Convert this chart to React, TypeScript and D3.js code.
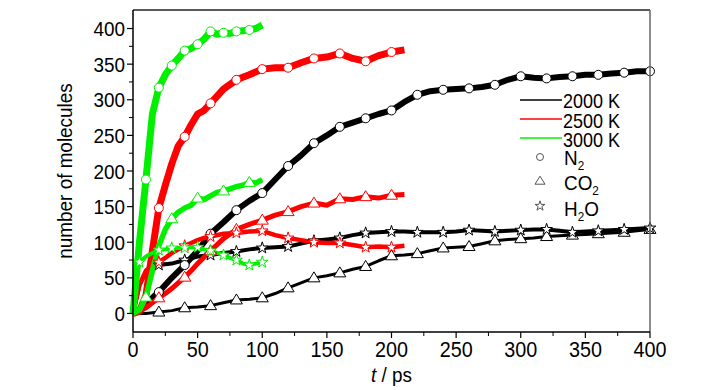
import React from 'react';
import * as d3 from 'd3';

const W = 728;
const H = 390;
const PLOT = { left: 133, right: 650, top: 10, bottom: 332 };
const FONT = "'Liberation Sans', Arial, sans-serif";
const SX = 0.9;

const xMajorTicks = [0, 50, 100, 150, 200, 250, 300, 350, 400];
const xMinorTicks = [25, 75, 125, 175, 225, 275, 325, 375];
const yMajorTicks = [0, 50, 100, 150, 200, 250, 300, 350, 400];
const yMinorTicks = [25, 75, 125, 175, 225, 275, 325, 375];

const temperatures = ['2000 K', '2500 K', '3000 K'];
const molecules = ['N2', 'CO2', 'H2O'];

// 3000 K
const tGreen = [0, 2, 5, 10, 15, 20, 25, 30, 35, 40, 45, 50, 55, 60, 65, 70, 75, 80, 85, 90, 95, 100];
const greenN2 = [0, 40, 100, 188, 280, 317, 335, 348, 358, 369, 372, 378, 385, 396, 392, 394, 393, 396, 397, 398, 400, 405];
const greenCO2 = [0, 2, 5, 23, 60, 95, 118, 133, 142, 148, 152, 162, 160, 165, 170, 172, 175, 178, 180, 184, 183, 188];
const greenH2O = [0, 50, 72, 80, 85, 89, 90, 92, 92, 92, 93, 93, 90, 88, 85, 82, 78, 75, 70, 68, 70, 72];

// 2500 K
const tRed = [0, 5, 10, 15, 20, 25, 30, 35, 40, 45, 50, 55, 60, 70, 80, 90, 100, 110, 120, 130, 140, 150, 160, 170, 180, 190, 200, 210];
const redN2 = [0, 3, 25, 88, 148, 180, 210, 235, 248, 265, 280, 285, 295, 315, 328, 335, 343, 345, 345, 352, 358, 360, 365, 358, 354, 362, 367, 370];
const redCO2 = [0, 3, 8, 15, 22, 28, 35, 43, 51, 60, 70, 79, 88, 105, 118, 125, 131, 138, 143, 150, 155, 152, 161, 160, 164, 162, 166, 167];
const redH2O = [0, 40, 60, 68, 72, 78, 85, 90, 95, 99, 103, 106, 108, 112, 113, 115, 116, 110, 106, 103, 100, 99, 99, 96, 93, 94, 93, 95];

// 2000 K
const tBlack = [0, 5, 10, 15, 20, 30, 40, 50, 60, 70, 80, 90, 100, 110, 120, 130, 140, 150, 160, 170, 180, 190, 200, 210, 220, 230, 240, 250, 260, 270, 280, 290, 300, 310, 320, 330, 340, 350, 360, 370, 380, 390, 400];
const blackN2 = [0, 5, 15, 22, 30, 50, 68, 88, 112, 128, 145, 158, 169, 188, 207, 222, 239, 250, 262, 268, 274, 280, 285, 297, 307, 312, 314, 315, 316, 318, 321, 328, 333, 331, 330, 332, 333, 335, 335, 337, 338, 340, 340];
const blackCO2 = [0, 0, 0, 1, 2, 4, 8, 9, 11, 15, 19, 20, 22, 28, 36, 43, 50, 53, 57, 62, 66, 74, 81, 82, 84, 88, 92, 93, 94, 98, 102, 104, 105, 106, 108, 109, 110, 111, 112, 113, 114, 116, 118];
const blackH2O = [0, 40, 58, 65, 68, 70, 75, 80, 82, 85, 87, 90, 92, 93, 94, 98, 102, 104, 106, 110, 113, 114, 115, 115, 114, 114, 114, 115, 117, 116, 115, 116, 117, 118, 118, 116, 114, 115, 116, 117, 118, 119, 120];

const greenN2Marks = [10, 20, 30, 40, 50, 60, 70, 80, 90];
const greenCO2Marks = [10, 30, 50, 70, 90];
const greenH2OMarks = [5, 20, 30, 40, 50, 60, 70, 80, 90, 100];
const redMarks = [20, 40, 60, 80, 100, 120, 140, 160, 180, 200];
const blackMarks = [20, 40, 60, 80, 100, 120, 140, 160, 180, 200, 220, 240, 260, 280, 300, 320, 340, 360, 380, 400];

const COLORS: Record<string, string> = { '2000 K': '#000000', '2500 K': '#ff0000', '3000 K': '#00f000' };

type Series = { temp: string; mol: string; t: number[]; v: number[]; marks: number[]; width: number };

const series: Series[] = [
  { temp: '2000 K', mol: 'CO2', t: tBlack, v: blackCO2, marks: blackMarks, width: 3 },
  { temp: '2000 K', mol: 'H2O', t: tBlack, v: blackH2O, marks: blackMarks, width: 4 },
  { temp: '2000 K', mol: 'N2', t: tBlack, v: blackN2, marks: blackMarks, width: 6 },
  { temp: '2500 K', mol: 'CO2', t: tRed, v: redCO2, marks: redMarks, width: 5 },
  { temp: '2500 K', mol: 'H2O', t: tRed, v: redH2O, marks: redMarks, width: 4.5 },
  { temp: '2500 K', mol: 'N2', t: tRed, v: redN2, marks: redMarks, width: 7 },
  { temp: '3000 K', mol: 'CO2', t: tGreen, v: greenCO2, marks: greenCO2Marks, width: 5.5 },
  { temp: '3000 K', mol: 'H2O', t: tGreen, v: greenH2O, marks: greenH2OMarks, width: 4 },
  { temp: '3000 K', mol: 'N2', t: tGreen, v: greenN2, marks: greenN2Marks, width: 7 },
];

const x = d3.scaleLinear().domain([0, 400]).range([PLOT.left, PLOT.right]);
const y = d3.scaleLinear().domain([-26, 426]).range([PLOT.bottom, PLOT.top]);

const starPath = d3.symbol().type(d3.symbolStar).size(42)() as string;
const starPathSmall = d3.symbol().type(d3.symbolStar).size(30)() as string;

function trianglePath(w: number, h: number) {
  return `M0,${-h * 0.6}L${w / 2},${h * 0.4}L${-w / 2},${h * 0.4}Z`;
}

function Marker({ mol, cx, cy, stroke, small }: { mol: string; cx: number; cy: number; stroke: string; small?: boolean }) {
  if (mol === 'N2') {
    return <circle cx={cx} cy={cy} r={small ? 3.5 : 4.5} fill="#fff" stroke={stroke} strokeWidth={1} />;
  }
  if (mol === 'CO2') {
    return <path d={small ? trianglePath(10, 8) : trianglePath(12, 10)} transform={`translate(${cx},${cy})`} fill="#fff" stroke={stroke} strokeWidth={1} />;
  }
  return <path d={small ? starPathSmall : starPath} transform={`translate(${cx},${cy})`} fill="#fff" stroke={stroke} strokeWidth={1} />;
}

function T({ x: tx, y: ty, anchor, size, rotate, children, dy }: { x: number; y: number; anchor?: string; size: number; rotate?: number; children: React.ReactNode; dy?: string }) {
  const tr = `translate(${tx},${ty})${rotate ? ` rotate(${rotate})` : ''} scale(${SX},1)`;
  return (
    <text transform={tr} textAnchor={anchor || 'start'} fontSize={size} fill="#000" dy={dy}>
      {children}
    </text>
  );
}

export default function App() {
  const line = d3.line<[number, number]>().x((d) => x(d[0])).y((d) => y(d[1]));

  return (
    <svg width={W} height={H} style={{ position: 'absolute', left: 0, top: 0, background: '#fff' }} fontFamily={FONT}>
      <rect x={0} y={0} width={W} height={H} fill="#fff" />
      {series.map((s, i) => {
        const pts: [number, number][] = s.t.map((t, j) => [t, s.v[j]]);
        return (
          <path key={i} d={line(pts) as string} fill="none" stroke={COLORS[s.temp]} strokeWidth={s.width} strokeLinejoin="round" />
        );
      })}
      {series.map((s, i) => (
        <g key={'m' + i}>
          {s.marks.map((mt, k) => {
            const j = s.t.indexOf(mt);
            if (j < 0) return null;
            return <Marker key={k} mol={s.mol} cx={x(mt)} cy={y(s.v[j])} stroke={COLORS[s.temp]} />;
          })}
        </g>
      ))}

      {/* frame */}
      <line x1={PLOT.left} x2={PLOT.right} y1={PLOT.top} y2={PLOT.top} stroke="#222" strokeWidth={1.5} />
      <line x1={PLOT.right} x2={PLOT.right} y1={PLOT.top} y2={PLOT.bottom} stroke="#666" strokeWidth={1.5} />
      <line x1={PLOT.left} x2={PLOT.left} y1={PLOT.top} y2={PLOT.bottom} stroke="#000" strokeWidth={1.5} />
      <line x1={PLOT.left} x2={PLOT.right} y1={PLOT.bottom} y2={PLOT.bottom} stroke="#000" strokeWidth={1.5} />

      {yMajorTicks.map((v) => (
        <g key={'ym' + v}>
          <line x1={PLOT.left - 6} x2={PLOT.left} y1={y(v)} y2={y(v)} stroke="#000" strokeWidth={1.2} />
          <T x={PLOT.left - 8} y={y(v)} anchor="end" size={21} dy="0.36em">{v}</T>
        </g>
      ))}
      {yMinorTicks.map((v) => (
        <line key={'yn' + v} x1={PLOT.left - 4} x2={PLOT.left} y1={y(v)} y2={y(v)} stroke="#000" strokeWidth={1} />
      ))}
      {xMajorTicks.map((v) => (
        <g key={'xm' + v}>
          <line x1={x(v)} x2={x(v)} y1={PLOT.bottom} y2={PLOT.bottom + 6} stroke="#000" strokeWidth={1.2} />
          <T x={x(v)} y={357} anchor="middle" size={22}>{v}</T>
        </g>
      ))}
      {xMinorTicks.map((v) => (
        <line key={'xn' + v} x1={x(v)} x2={x(v)} y1={PLOT.bottom} y2={PLOT.bottom + 4} stroke="#000" strokeWidth={1} />
      ))}

      <T x={(PLOT.left + PLOT.right) / 2} y={382} anchor="middle" size={21}>
        <tspan fontStyle="italic">t</tspan>
        <tspan> / ps</tspan>
      </T>
      <T x={72} y={(PLOT.top + PLOT.bottom) / 2} anchor="middle" size={21} rotate={-90}>
        number of molecules
      </T>

      {temperatures.map((tp, i) => (
        <g key={tp}>
          <line x1={520} x2={562} y1={100 + i * 19} y2={100 + i * 19} stroke={COLORS[tp]} strokeWidth={1.3} />
          <T x={563} y={108 + i * 19.5} size={20}>{tp}</T>
        </g>
      ))}
      {molecules.map((m, i) => {
        const cy = [157, 181, 206][i];
        const by = [165, 190, 216][i];
        const label = m === 'N2' ? ['N', '2', ''] : m === 'CO2' ? ['CO', '2', ''] : ['H', '2', 'O'];
        return (
          <g key={m}>
            <Marker mol={m} cx={540} cy={cy} stroke="#555" small />
            <T x={564} y={by} size={21}>
              {label[0]}
              <tspan fontSize={13} dy={5}>{label[1]}</tspan>
              {label[2] ? <tspan dy={-5}>{label[2]}</tspan> : null}
            </T>
          </g>
        );
      })}
    </svg>
  );
}
